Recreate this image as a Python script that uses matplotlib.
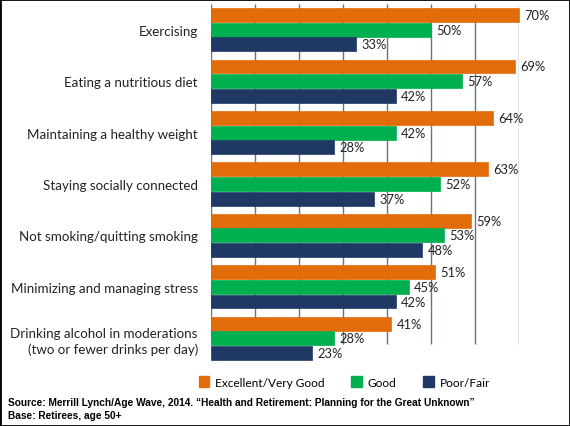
import numpy as np
import matplotlib.pyplot as plt
from matplotlib.patches import Patch, Rectangle

categories = ['Exercising', 'Eating a nutritious diet', 'Maintaining a healthy weight',
              'Staying socially connected', 'Not smoking/quitting smoking',
              'Minimizing and managing stress',
              'Drinking alcohol in moderations\n(two or fewer drinks per day)']
excellent = [70, 69, 64, 63, 59, 51, 41]
good = [50, 57, 42, 52, 53, 45, 28]
poor = [33, 42, 28, 37, 48, 42, 23]
series_names = ['Excellent/Very Good', 'Good', 'Poor/Fair']
colors = ['#E36C0A', '#00B050', '#1F3864']

plt.rcParams['font.family'] = ['Lato', 'DejaVu Sans']

fig = plt.figure(figsize=(5.7, 4.27), dpi=100)
ax = fig.add_axes([211/570, 62/427, 308/570, 360/427])

y = np.arange(len(categories))
h = 0.27
offsets = [-0.285, 0, 0.285]
for vals, off, col in zip([excellent, good, poor], offsets, colors):
    bars = ax.barh(y + off, vals, height=h, color=col, zorder=3, clip_on=False,
                   edgecolor=col, linewidth=0.5)
    for b, v in zip(bars, vals):
        ax.text(v + 1.2, b.get_y() + b.get_height() / 2, f'{v}%', va='center', ha='left',
                fontsize=9.3, color='#222222')

ax.vlines(np.arange(0, 71, 10), 0.056, 1, transform=ax.get_xaxis_transform(),
          color='#5A7896', linewidth=1, zorder=1)

ax.set_xlim(0, 70)
ax.set_ylim(len(categories) - 0.5, -0.5)
ax.set_yticks(y)
ax.set_yticklabels(categories, fontsize=9.6, color='#222222', linespacing=1.3)
ax.tick_params(axis='y', length=0, pad=9.5)
ax.set_xticks([])
for s in ax.spines.values():
    s.set_visible(False)

handles = [Patch(facecolor=c, edgecolor=c) for c in colors]
fig.legend(handles, series_names, loc='center', bbox_to_anchor=(0.604, 0.103), ncol=3,
           frameon=False, fontsize=8.6, handlelength=0.9, handleheight=1.0,
           handletextpad=0.5, columnspacing=2.2)

fig.text(8/570, 1 - 403/427, 'Source: Merrill Lynch/Age Wave, 2014. \u201cHealth and Retirement: Planning for the Great Unknown\u201d',
         fontsize=7.3, fontweight='bold', family='Liberation Sans', va='center')
fig.text(8/570, 1 - 416/427, 'Base: Retirees, age 50+',
         fontsize=7.3, fontweight='bold', family='Liberation Sans', va='center')

fig.patches.append(Rectangle((0, 0), 1, 1, transform=fig.transFigure, fill=False,
                             edgecolor='black', linewidth=2))

fig.savefig('out.png', dpi=100)
